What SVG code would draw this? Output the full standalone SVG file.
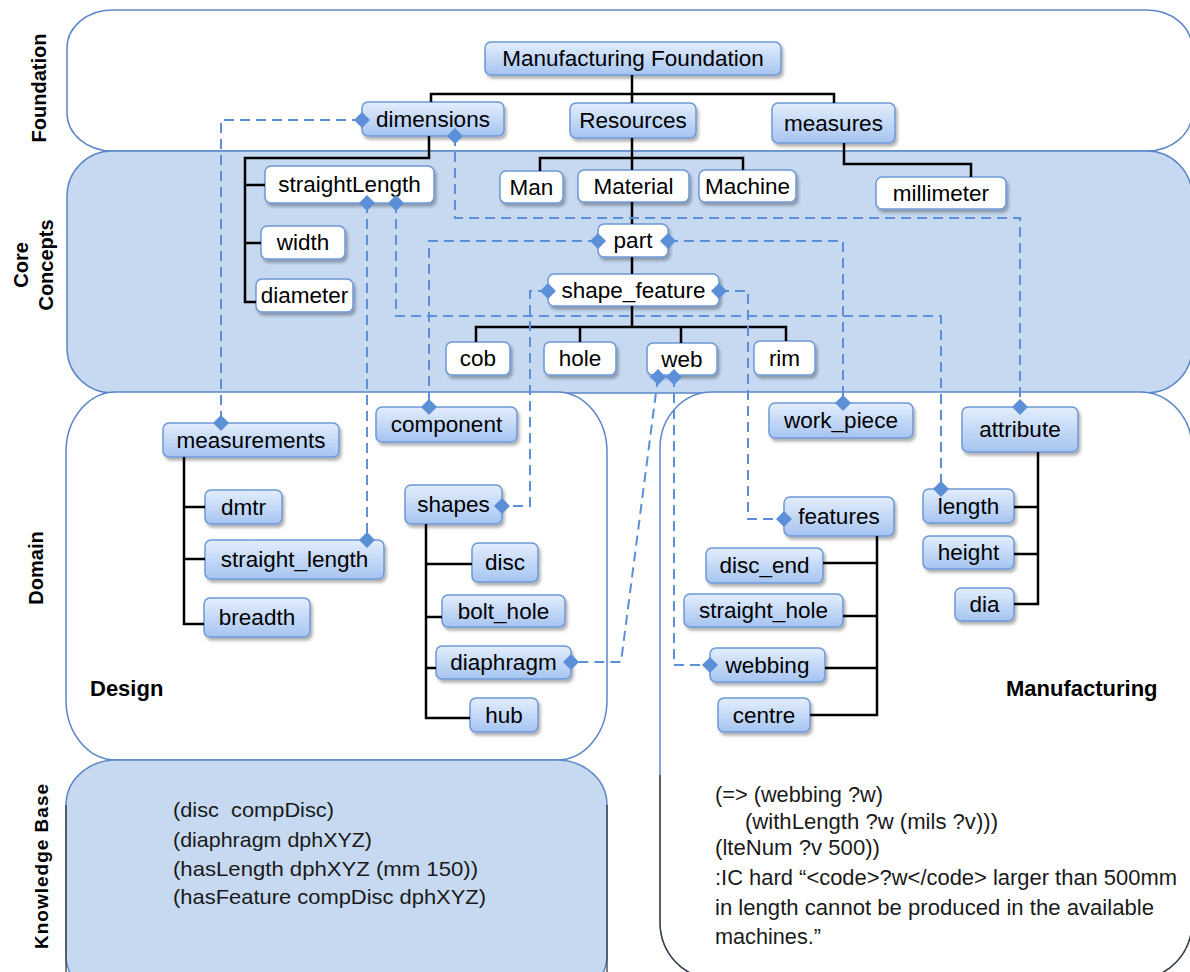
<svg xmlns="http://www.w3.org/2000/svg" width="1190" height="972" viewBox="0 0 1190 972">
<defs>
<linearGradient id="g" x1="0" y1="0" x2="0" y2="1">
<stop offset="0" stop-color="#e3eefc"/>
<stop offset="1" stop-color="#a6c4f1"/>
</linearGradient>
<filter id="sh" x="-10%" y="-20%" width="130%" height="170%">
<feDropShadow dx="2" dy="3" stdDeviation="1.6" flood-color="#000" flood-opacity="0.3"/>
</filter>
<marker id="dm" markerUnits="userSpaceOnUse" markerWidth="18" markerHeight="18" refX="9" refY="9" overflow="visible">
<path d="M9,1 L17,9 L9,17 L1,9 Z" fill="#5b8fd8"/>
</marker>
<style>
.band{stroke:#5b87c9;stroke-width:1.5}
.nb rect{fill:url(#g);stroke:#6d98d6;stroke-width:1.5;filter:url(#sh)}
.nw rect{fill:#fff;stroke:#6d98d6;stroke-width:1.5;filter:url(#sh)}
text{font-family:"Liberation Sans",Arial,sans-serif;fill:#000}
.lbl{font-size:22.5px;text-anchor:middle}
.side{font-size:20px;font-weight:bold;text-anchor:middle}
.big{font-size:22px;font-weight:bold}
.kb{font-size:21px;fill:#1a1a1a}
.kr{font-size:22px;fill:#1a1a1a}
.tree{fill:none;stroke:#000;stroke-width:2.5}
.dash{fill:none;stroke:#5b8fd8;stroke-width:2;stroke-dasharray:10 6;marker-start:url(#dm);marker-end:url(#dm)}
.dark{fill:none;stroke:#3c3c3c;stroke-width:1.3}
</style>
</defs>

<g id="bands">
<rect class="band" x="67" y="10" width="1125" height="141" rx="45" ry="38" fill="#fff"/>
<rect class="band" x="67" y="151" width="1125" height="242" rx="45" ry="45" fill="#c6d9f0"/>
<rect class="band" x="66" y="392" width="541" height="368" rx="50" ry="60" fill="#fff"/>
<rect class="band" x="660" y="392" width="532" height="586" rx="52" ry="56" fill="#fff"/>
<rect class="band" x="66" y="760" width="541" height="240" rx="50" ry="45" fill="#c6d9f0"/>
<path class="dark" d="M66,805 V972 M607,805 V972"/>
<path class="dark" d="M660,775 V922 A52,56 0 0 0 712,978 M1192,775 V922 A52,56 0 0 1 1140,978"/>
</g>

<g id="side-labels">
<text class="side" transform="translate(46,88) rotate(-90)">Foundation</text>
<text class="side" transform="translate(28,265) rotate(-90)">Core</text>
<text class="side" transform="translate(53,265) rotate(-90)">Concepts</text>
<text class="side" transform="translate(43,568) rotate(-90)">Domain</text>
<text class="side" style="font-size:19px;letter-spacing:1px" transform="translate(48,866) rotate(-90)">Knowledge Base</text>
<text class="big" x="90" y="696">Design</text>
<text class="big" x="1006" y="696">Manufacturing</text>
</g>

<g id="nodes">
<g id="n-mf" class="nb"><rect x="485" y="42" width="296" height="33" rx="6"/><text class="lbl" x="633" y="66">Manufacturing Foundation</text></g>
<g id="n-dimensions" class="nb"><rect x="362" y="102" width="142" height="34" rx="6"/><text class="lbl" x="433" y="127">dimensions</text></g>
<g id="n-resources" class="nb"><rect x="570" y="103" width="126" height="35" rx="6"/><text class="lbl" x="633" y="128">Resources</text></g>
<g id="n-measures" class="nb"><rect x="772" y="103" width="123" height="40" rx="6"/><text class="lbl" x="833.5" y="131">measures</text></g>

<g id="n-straightLength" class="nw"><rect x="265" y="166" width="169" height="37" rx="6"/><text class="lbl" x="349.5" y="192">straightLength</text></g>
<g id="n-width" class="nw"><rect x="261" y="226" width="84" height="33" rx="6"/><text class="lbl" x="303" y="250">width</text></g>
<g id="n-diameter" class="nw"><rect x="256" y="279" width="97" height="33" rx="6"/><text class="lbl" x="304.5" y="303">diameter</text></g>
<g id="n-man" class="nw"><rect x="500" y="171" width="63" height="32" rx="6"/><text class="lbl" x="531.5" y="195">Man</text></g>
<g id="n-material" class="nw"><rect x="578" y="170" width="111" height="32" rx="6"/><text class="lbl" x="633.5" y="194">Material</text></g>
<g id="n-machine" class="nw"><rect x="699" y="170" width="97" height="32" rx="6"/><text class="lbl" x="747.5" y="194">Machine</text></g>
<g id="n-millimeter" class="nw"><rect x="876" y="177" width="130" height="32" rx="6"/><text class="lbl" x="941" y="201">millimeter</text></g>
<g id="n-part" class="nw"><rect x="598" y="224" width="70" height="33" rx="6"/><text class="lbl" x="633" y="248">part</text></g>
<g id="n-shape_feature" class="nw"><rect x="548" y="274" width="171" height="32" rx="6"/><text class="lbl" x="633.5" y="298">shape_feature</text></g>
<g id="n-cob" class="nw"><rect x="446" y="342" width="64" height="33" rx="6"/><text class="lbl" x="478" y="366">cob</text></g>
<g id="n-hole" class="nw"><rect x="544" y="342" width="72" height="33" rx="6"/><text class="lbl" x="580" y="366">hole</text></g>
<g id="n-web" class="nw"><rect x="647" y="343" width="70" height="32" rx="6"/><text class="lbl" x="682" y="367">web</text></g>
<g id="n-rim" class="nw"><rect x="754" y="341" width="61" height="34" rx="6"/><text class="lbl" x="784.5" y="366">rim</text></g>

<g id="n-measurements" class="nb"><rect x="163" y="423" width="176" height="34" rx="6"/><text class="lbl" x="251" y="448">measurements</text></g>
<g id="n-component" class="nb"><rect x="376" y="407" width="141" height="35" rx="6"/><text class="lbl" x="446.5" y="432">component</text></g>
<g id="n-dmtr" class="nb"><rect x="205" y="490" width="77" height="34" rx="6"/><text class="lbl" x="243.5" y="515">dmtr</text></g>
<g id="n-straight_length" class="nb"><rect x="205" y="540" width="179" height="39" rx="6"/><text class="lbl" x="294.5" y="567">straight_length</text></g>
<g id="n-breadth" class="nb"><rect x="204" y="598" width="106" height="39" rx="6"/><text class="lbl" x="257" y="625">breadth</text></g>
<g id="n-shapes" class="nb"><rect x="405" y="485" width="97" height="39" rx="6"/><text class="lbl" x="453.5" y="512">shapes</text></g>
<g id="n-disc" class="nb"><rect x="472" y="543" width="66" height="39" rx="6"/><text class="lbl" x="505" y="570">disc</text></g>
<g id="n-bolt_hole" class="nb"><rect x="442" y="595" width="123" height="32" rx="6"/><text class="lbl" x="503.5" y="619">bolt_hole</text></g>
<g id="n-diaphragm" class="nb"><rect x="436" y="646" width="135" height="33" rx="6"/><text class="lbl" x="503.5" y="670">diaphragm</text></g>
<g id="n-hub" class="nb"><rect x="470" y="698" width="68" height="34" rx="6"/><text class="lbl" x="504" y="723">hub</text></g>

<g id="n-work_piece" class="nb"><rect x="769" y="403" width="144" height="35" rx="6"/><text class="lbl" x="841" y="428">work_piece</text></g>
<g id="n-attribute" class="nb"><rect x="962" y="407" width="116" height="45" rx="6"/><text class="lbl" x="1020" y="437">attribute</text></g>
<g id="n-features" class="nb"><rect x="784" y="497" width="110" height="39" rx="6"/><text class="lbl" x="839" y="524">features</text></g>
<g id="n-disc_end" class="nb"><rect x="706" y="548" width="117" height="35" rx="6"/><text class="lbl" x="764.5" y="573">disc_end</text></g>
<g id="n-straight_hole" class="nb"><rect x="684" y="594" width="159" height="33" rx="6"/><text class="lbl" x="763.5" y="618">straight_hole</text></g>
<g id="n-webbing" class="nb"><rect x="710" y="648" width="115" height="34" rx="6"/><text class="lbl" x="767.5" y="673">webbing</text></g>
<g id="n-centre" class="nb"><rect x="718" y="698" width="92" height="34" rx="6"/><text class="lbl" x="764" y="723">centre</text></g>
<g id="n-length" class="nb"><rect x="923" y="489" width="91" height="34" rx="6"/><text class="lbl" x="968.5" y="514">length</text></g>
<g id="n-height" class="nb"><rect x="923" y="536" width="91" height="33" rx="6"/><text class="lbl" x="968.5" y="560">height</text></g>
<g id="n-dia" class="nb"><rect x="955" y="588" width="59" height="33" rx="6"/><text class="lbl" x="984.5" y="612">dia</text></g>
</g>

<g id="connectors">
<g id="tree">
<path class="tree" d="M632,75 V94 M431,102 V94 H834 V103 M632,94 V103"/>
<path class="tree" d="M429,136 V158 H245 V302 H256 M245,185 H265 M245,243 H261"/>
<path class="tree" d="M632,138 V158 M540,171 V158 H743 V170 M632,158 V170"/>
<path class="tree" d="M632,202 V224 M632,257 V274 M632,306 V327 M476,342 V327 H786 V341 M580,327 V342 M681,327 V343"/>
<path class="tree" d="M844,143 V164 H971 V177"/>
<path class="tree" d="M184,457 V624 H204 M184,507 H205 M184,559 H205"/>
<path class="tree" d="M426,524 V718 H470 M426,564 H472 M426,617 H442 M426,668 H436"/>
<path class="tree" d="M877,536 V715 H810 M877,563 H823 M877,616 H843 M877,668 H825"/>
<path class="tree" d="M1038,452 V604 H1014 M1038,507 H1014 M1038,554 H1014"/>
</g>
<g id="links">
<path class="dash" d="M362,120 H221 V423"/>
<path class="dash" d="M455,136 V218 H1020 V407"/>
<path class="dash" d="M367,203 V540"/>
<path class="dash" d="M396,203 V316 H941 V489"/>
<path class="dash" d="M598,241 H429 V407"/>
<path class="dash" d="M668,241 H843 V403"/>
<path class="dash" d="M548,291 H530 V506 H502"/>
<path class="dash" d="M719,291 H748 V519 H784"/>
<path class="dash" d="M658,377 L621,662 H571"/>
<path class="dash" d="M674,377 V665 H710"/>
</g>
</g>

<g id="kb-left">
<text class="kb" x="173" y="817" textLength="161" lengthAdjust="spacingAndGlyphs" xml:space="preserve">(disc  compDisc)</text>
<text class="kb" x="173" y="847" textLength="199" lengthAdjust="spacingAndGlyphs">(diaphragm dphXYZ)</text>
<text class="kb" x="173" y="876" textLength="305" lengthAdjust="spacingAndGlyphs">(hasLength dphXYZ (mm 150))</text>
<text class="kb" x="173" y="904" textLength="313" lengthAdjust="spacingAndGlyphs">(hasFeature compDisc dphXYZ)</text>
</g>

<g id="kb-right">
<text class="kr" x="715" y="802" textLength="168" lengthAdjust="spacingAndGlyphs">(=&gt; (webbing ?w)</text>
<text class="kr" x="745" y="829" textLength="253" lengthAdjust="spacingAndGlyphs">(withLength ?w (mils ?v)))</text>
<text class="kr" x="715" y="855" textLength="165" lengthAdjust="spacingAndGlyphs">(lteNum ?v 500))</text>
<text class="kr" x="715" y="885" textLength="462" lengthAdjust="spacingAndGlyphs">:IC hard “&lt;code&gt;?w&lt;/code&gt; larger than 500mm</text>
<text class="kr" x="715" y="915" textLength="439" lengthAdjust="spacingAndGlyphs">in length cannot be produced in the available</text>
<text class="kr" x="715" y="944" textLength="106" lengthAdjust="spacingAndGlyphs">machines.”</text>
</g>
</svg>
